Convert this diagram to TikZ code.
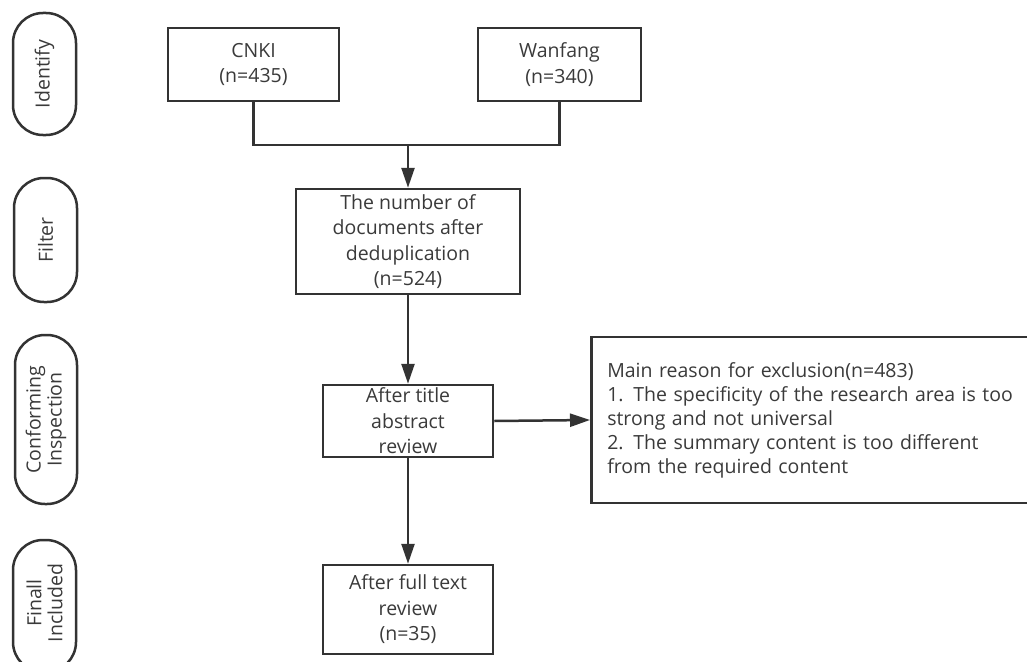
\documentclass[tikz,border=0pt]{standalone}
\usepackage{fontspec}
\setmainfont{Open Sans}
\usetikzlibrary{arrows.meta}
\definecolor{ink}{HTML}{333333}
\definecolor{txt}{HTML}{3A3A3A}
\begin{document}
\begin{tikzpicture}[x=1pt,y=-1pt,
  box/.style={draw=ink,line width=2.5pt,text=txt,align=center,inner sep=0pt,font=\fontsize{19.5}{25.5}\selectfont},
  pill/.style={draw=ink,line width=2.5pt,rounded corners=30pt},
  lbl/.style={text=txt,align=center,rotate=90,font=\fontsize{19.5}{21}\selectfont},
  conn/.style={draw=ink,line width=2.5pt},
  arr/.style={conn,-{Triangle[length=20pt,width=13pt]}}]
\useasboundingbox (0,0) rectangle (1027,661);
% stage pills
\draw[pill] (13,13) rectangle (76,135);
\node[lbl] (s1) at (44.5,74) {Identify};
\draw[pill] (14,178) rectangle (77,302);
\node[lbl] (s2) at (45.5,240) {Filter};
\draw[pill] (15,335) rectangle (77,504);
\node[lbl] (s3) at (46,419.5) {Conforming\\Inspection};
\draw[pill] (13,540) rectangle (76,672);
\node[lbl] (s4) at (44.5,603) {Finall\\Included};
% boxes
\node[box,minimum width=171pt,minimum height=73pt] (cnki) at (253.5,64.5) {CNKI\\(n=435)};
\node[box,minimum width=163pt,minimum height=73pt] (wan) at (559.5,64.5) {Wanfang\\(n=340)};
\node[box,minimum width=224pt,minimum height=105pt] (dedup) at (408,241.5) {The number of\\documents after\\deduplication\\(n=524)};
\node[box,minimum width=170pt,minimum height=72pt] (title) at (408,421) {After title\\abstract\\review};
\node[box,minimum width=170pt,minimum height=89pt] (full) at (408,609.5) {After full text\\review\\(n=35)};
\node[box,minimum width=450pt,minimum height=166pt,align=left,anchor=west,text width=430pt,inner xsep=16pt,font=\fontsize{19.5}{24}\selectfont] (excl) at (590,420) {Main reason for exclusion(n=483)\\1. The specificity of the research area is too\\strong and not universal\\2. The summary content is too different\\from the required content};
% connectors
\coordinate (j) at (408,145);
\draw[conn] (cnki.south) |- (j) -| (wan.south);
\draw[arr] (j) -- (dedup.north);
\draw[arr] (dedup.south) -- (title.north);
\draw[arr] (title.south) -- (full.north);
\draw[arr] (title.east) -- (excl.west);
\end{tikzpicture}
\end{document}
